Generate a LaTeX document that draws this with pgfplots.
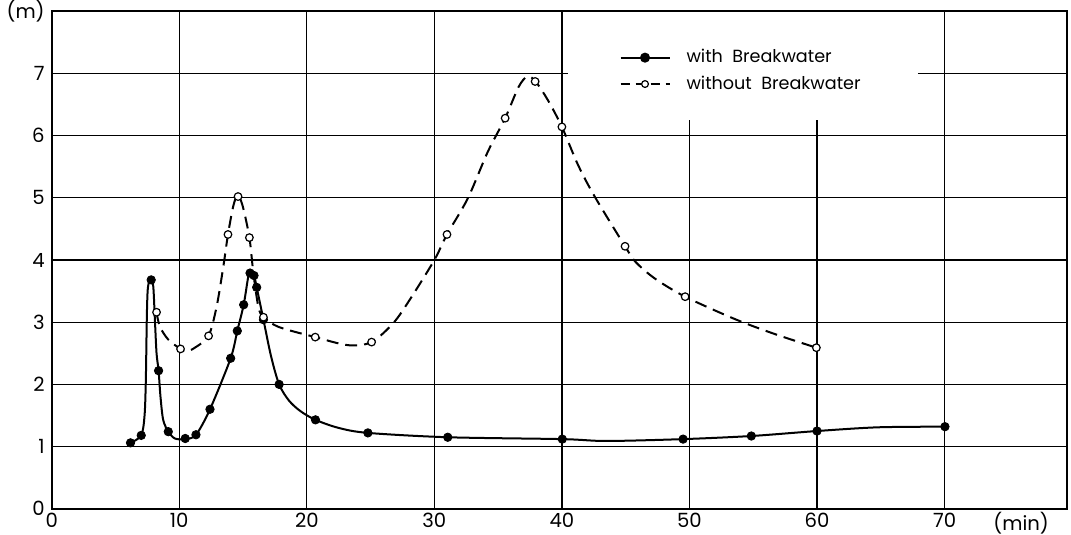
\documentclass[border=0pt]{standalone}
\usepackage{pgfplots}
\pgfplotsset{compat=1.18}
\usepackage{fontspec}
\setmainfont{Poppins}
\begin{document}
\begin{tikzpicture}
\begin{axis}[
  name=ax, at={(0,0)}, anchor=south west,
  scale only axis, width=507.65pt, height=248.8pt,
  xmin=0, xmax=79.6, ymin=0, ymax=8,
  xtick={0,10,20,30,40,50,60,70,76},
  xticklabels={0,10,20,30,40,50,60,70,(min)},
  ytick={0,1,2,3,4,5,6,7,8},
  yticklabels={0,1,2,3,4,5,6,7,(m)},
  major tick length=0pt,
  tick label style={font=\fontsize{9.8}{11}\selectfont},
  xticklabel style={yshift=1.6pt},
  /pgf/number format/assume math mode=true,
  axis line style={line width=0.9pt},
  legend cell align=left,
  legend style={draw=none, fill=none, at={(0.553,0.94)}, anchor=north west,
    font=\fontsize{8.8}{10}\selectfont, row sep=1pt,
    /tikz/every odd column/.append style={column sep=6pt}},
  legend image code/.code={\draw[mark repeat=2,mark phase=2,#1] plot coordinates {(0cm,0cm) (0.43cm,0cm) (0.86cm,0cm)};},
]
% grid
\draw[line width=0.65pt] (axis cs:10,0) -- (axis cs:10,8);
\draw[line width=0.65pt] (axis cs:20,0) -- (axis cs:20,8);
\draw[line width=0.65pt] (axis cs:30,0) -- (axis cs:30,8);
\draw[line width=0.65pt] (axis cs:40,0) -- (axis cs:40,8);
\draw[line width=0.65pt] (axis cs:50,0) -- (axis cs:50,6.25);
\draw[line width=0.65pt] (axis cs:60,0) -- (axis cs:60,6.25);
\draw[line width=0.65pt] (axis cs:70,0) -- (axis cs:70,8);
\draw[line width=0.65pt] (axis cs:0,1) -- (axis cs:79.6,1);
\draw[line width=0.65pt] (axis cs:0,2) -- (axis cs:79.6,2);
\draw[line width=0.65pt] (axis cs:0,3) -- (axis cs:79.6,3);
\draw[line width=0.65pt] (axis cs:0,4) -- (axis cs:79.6,4);
\draw[line width=0.65pt] (axis cs:0,5) -- (axis cs:79.6,5);
\draw[line width=0.65pt] (axis cs:0,6) -- (axis cs:79.6,6);
\draw[line width=0.65pt] (axis cs:0,7) -- (axis cs:40.5,7);
\draw[line width=0.65pt] (axis cs:67.9,7) -- (axis cs:79.6,7);

\addlegendimage{black, line width=1pt, mark=*, mark size=2pt}
\addlegendentry{with\ \ Breakwater}
\addlegendimage{black, line width=1pt, dash pattern=on 4.5pt off 3pt, mark=*, mark size=1.7pt, mark options={solid, fill=white, line width=0.6pt}}
\addlegendentry{without\ \ Breakwater}

% without breakwater curve
\addplot[black, line width=1pt, dash pattern=on 6pt off 3.5pt, smooth, tension=0.5, forget plot] coordinates {
(8.22,3.16)(8.48,2.93)(9.14,2.72)(10.10,2.57)(10.6,2.53)(11.3,2.6)(12.30,2.78)(12.93,3.25)(13.46,3.9)(13.82,4.41)(14.24,4.87)(14.58,5.04)(14.97,4.87)(15.50,4.36)(15.81,3.79)(16.2,3.25)(16.60,3.08)(17.84,2.92)(20.66,2.76)(23.24,2.63)(25.08,2.68)(26.8,2.99)(28.1,3.37)(30,4.0)(30.99,4.41)(32.62,4.99)(34.19,5.74)(35.55,6.28)(36.6,6.78)(37.28,6.95)(37.9,6.88)(38.9,6.57)(40.0,6.14)(41.26,5.53)(42.57,5.02)(44.95,4.22)(45.77,3.97)(47.3,3.70)(49.66,3.41)(53.56,3.05)(56.68,2.81)(59.95,2.59)
};
% with breakwater curve
\addplot[black, line width=1pt, smooth, tension=0.5, forget plot] coordinates {
(6.18,1.06)(7.02,1.18)(7.28,1.5)(7.38,2.07)(7.46,3.1)(7.54,3.55)(7.75,3.70)(7.96,3.58)(8.09,3.04)(8.22,2.5)(8.38,2.22)(8.53,1.8)(8.74,1.43)(9.14,1.24)(9.66,1.13)(10.47,1.12)(11.31,1.19)(12.41,1.60)(14.03,2.42)(14.55,2.86)(15.05,3.28)(15.4,3.72)(15.55,3.80)(15.86,3.75)(16.07,3.56)(16.60,3.04)(17.2,2.45)(17.83,2.0)(18.6,1.74)(19.5,1.57)(20.68,1.43)(22.5,1.30)(24.79,1.22)(31.05,1.15)(40.03,1.12)(43.5,1.09)(49.5,1.12)(54.85,1.17)(60.0,1.25)(64.8,1.31)(70.03,1.32)
};
% with breakwater marks
\addplot[only marks, black, mark=*, mark size=2.1pt, forget plot] coordinates {
(6.18,1.06)(7.02,1.18)(7.80,3.68)(8.38,2.22)(9.14,1.24)(10.47,1.13)(11.31,1.19)(12.41,1.60)(14.03,2.42)(14.55,2.86)(15.05,3.28)(15.55,3.79)(15.86,3.75)(16.07,3.56)(16.60,3.04)(17.83,2.0)(20.68,1.43)(24.79,1.22)(31.05,1.15)(40.03,1.12)(49.5,1.12)(54.85,1.17)(60.0,1.25)(70.03,1.32)
};
% without breakwater marks
\addplot[only marks, black, mark=*, mark size=1.9pt, mark options={fill=white, line width=0.6pt}, forget plot] coordinates {
(8.22,3.16)(10.10,2.57)(12.30,2.78)(13.82,4.41)(14.61,5.02)(15.50,4.36)(16.60,3.08)(20.66,2.76)(25.08,2.68)(30.99,4.41)(35.55,6.28)(37.9,6.87)(40.0,6.14)(44.95,4.22)(49.66,3.41)(59.95,2.59)
};
\end{axis}
\pgfresetboundingbox
\path[use as bounding box] ([xshift=-25.85pt,yshift=-13.1pt]ax.south west) rectangle ([xshift=2pt,yshift=5.6pt]ax.north east);
\end{tikzpicture}
\end{document}
